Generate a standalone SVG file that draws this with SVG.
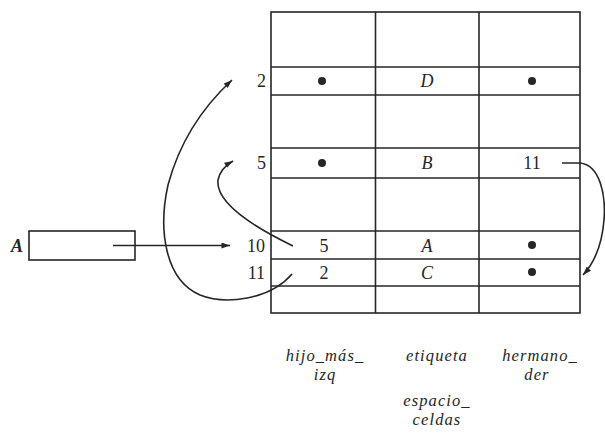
<svg xmlns="http://www.w3.org/2000/svg" width="605" height="435" viewBox="0 0 605 435">
<style>
.ln{stroke:#262626;stroke-width:1.6;fill:none}
.num{font-family:"Liberation Serif",serif;font-size:18px;fill:#262626}
.it{font-family:"Liberation Serif",serif;font-style:italic;font-size:18px;fill:#262626}
.lab{font-family:"Liberation Serif",serif;font-style:italic;font-size:16.5px;letter-spacing:1.1px;fill:#262626;text-anchor:middle}
.dot{fill:#262626}
</style>
<defs>
<marker id="ah" viewBox="0 0 10 7" refX="10" refY="3.5" markerWidth="9" markerHeight="6" markerUnits="userSpaceOnUse" orient="auto">
<path d="M0,0 L10,3.5 L0,7 z" fill="#262626"/>
</marker>
</defs>
<rect width="605" height="435" fill="#fff"/>
<g id="tabla">
<rect class="ln" x="271" y="12" width="309" height="301"/>
<line class="ln" x1="375.5" y1="12" x2="375.5" y2="313"/>
<line class="ln" x1="479" y1="12" x2="479" y2="313"/>
<line class="ln" x1="271" y1="67" x2="580" y2="67"/>
<line class="ln" x1="271" y1="95" x2="580" y2="95"/>
<line class="ln" x1="271" y1="148" x2="580" y2="148"/>
<line class="ln" x1="271" y1="178" x2="580" y2="178"/>
<line class="ln" x1="271" y1="231" x2="580" y2="231"/>
<line class="ln" x1="271" y1="259" x2="580" y2="259"/>
<line class="ln" x1="271" y1="286" x2="580" y2="286"/>
</g>
<g id="fila2">
<text class="num" x="266" y="87" text-anchor="end">2</text>
<circle class="dot" cx="322" cy="81" r="4"/>
<text class="it" x="427" y="87" text-anchor="middle">D</text>
<circle class="dot" cx="532" cy="81" r="4"/>
</g>
<g id="fila5">
<text class="num" x="266" y="169" text-anchor="end">5</text>
<circle class="dot" cx="322" cy="163" r="4"/>
<text class="it" x="427" y="169" text-anchor="middle">B</text>
<text class="num" x="532" y="169" text-anchor="middle">11</text>
</g>
<g id="fila10">
<text class="num" x="265" y="252" text-anchor="end">10</text>
<text class="num" x="324" y="252" text-anchor="middle">5</text>
<text class="it" x="427" y="252" text-anchor="middle">A</text>
<circle class="dot" cx="532" cy="245" r="4"/>
</g>
<g id="fila11">
<text class="num" x="265" y="279" text-anchor="end">11</text>
<text class="num" x="324" y="279" text-anchor="middle">2</text>
<text class="it" x="427" y="279" text-anchor="middle">C</text>
<circle class="dot" cx="532" cy="272" r="4"/>
</g>
<g id="varA">
<text class="it" x="11" y="252" font-weight="bold">A</text>
<rect class="ln" x="29" y="231" width="106" height="29"/>
</g>
<g id="etiquetas">
<text class="lab" x="325" y="361">hijo_más_</text>
<text class="lab" x="325" y="380">izq</text>
<text class="lab" x="437" y="361">etiqueta</text>
<text class="lab" x="540" y="361">hermano_</text>
<text class="lab" x="537" y="380">der</text>
<text class="lab" x="437" y="406">espacio_</text>
<text class="lab" x="437" y="425">celdas</text>
</g>
<g id="conectores">
<path class="ln" d="M113,245.5 L230,245.5" marker-end="url(#ah)"/>
<path class="ln" d="M293,246 C260,230 215,205 218,180 C220,170 226,165 233,161" marker-end="url(#ah)"/>
<path class="ln" d="M292,274 C270,300 225,305 200,295 C165,280 158,230 168,185 C180,140 205,105 232,80" marker-end="url(#ah)"/>
<path class="ln" d="M562,163 L580,163 C600,165 606,195 604,220 C602,245 595,262 583,275" marker-end="url(#ah)"/>
</g>
</svg>
